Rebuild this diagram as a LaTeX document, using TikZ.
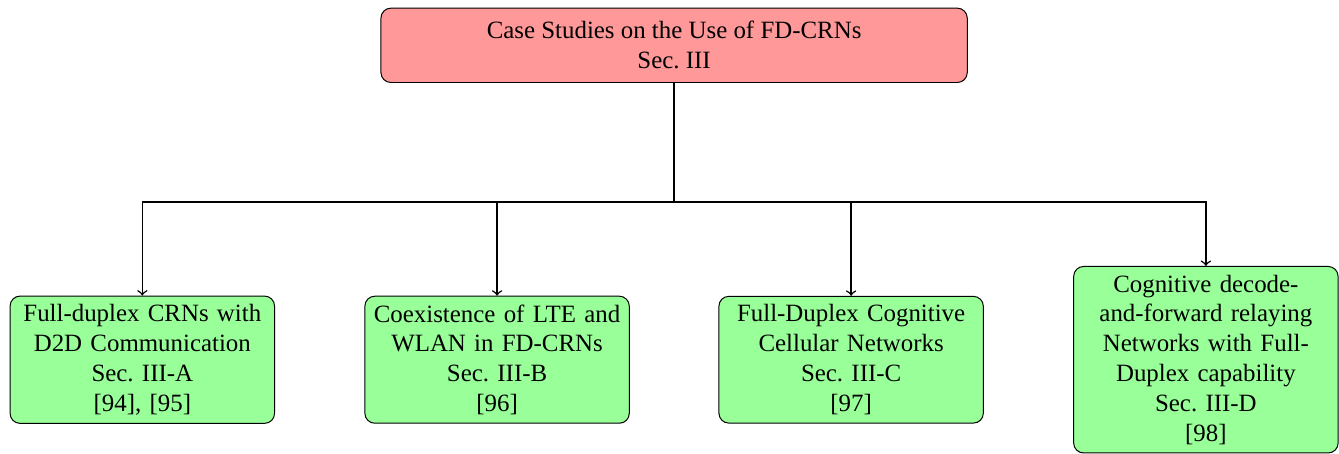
\documentclass[tikz,border=0pt]{standalone}
\usepackage{fontspec}
\setmainfont{Liberation Serif}
\usetikzlibrary{arrows}

\begin{document}
\begin{tikzpicture}[>=to, semithick]
    \tikzset{
        topic/.style={draw, thin, rounded corners, fill=red!40,
            minimum width=8.28cm, minimum height=1.05cm, align=center},
        subtopic/.style={draw, thin, rounded corners, fill=green!40,
            text width=3.5cm, align=center}
    }
    \useasboundingbox (0, 0) rectangle (18.91, -6.40);
    \path
    (9.52, -0.64) node[topic] (cs) {Case Studies on the Use of FD-CRNs\\Sec.\ III}
    (2.01, -5.08) node[subtopic] (dtd) {Full-duplex CRNs with\\D2D Communication\\Sec.\ III-A\\{[94]}, [95]}
    (7.02, -5.08) node[subtopic] (lte) {Coexistence of LTE and\\WLAN in FD-CRNs\\Sec.\ III-B\\{[96]}}
    (12.02, -5.08) node[subtopic] (cell) {Full-Duplex Cognitive\\Cellular Networks\\Sec.\ III-C\\{[97]}}
    (17.03, -5.08) node[subtopic] (relay) {Cognitive decode-\\and-forward relaying\\Networks with Full-\\Duplex capability\\Sec.\ III-D\\{[98]}};
    \coordinate (bus) at (9.52, -2.85);
    \draw (cs.south) -- (bus);
    \foreach \n in {dtd, lte, cell, relay}
        \draw[->] (bus) -| (\n.north);
\end{tikzpicture}
\end{document}
